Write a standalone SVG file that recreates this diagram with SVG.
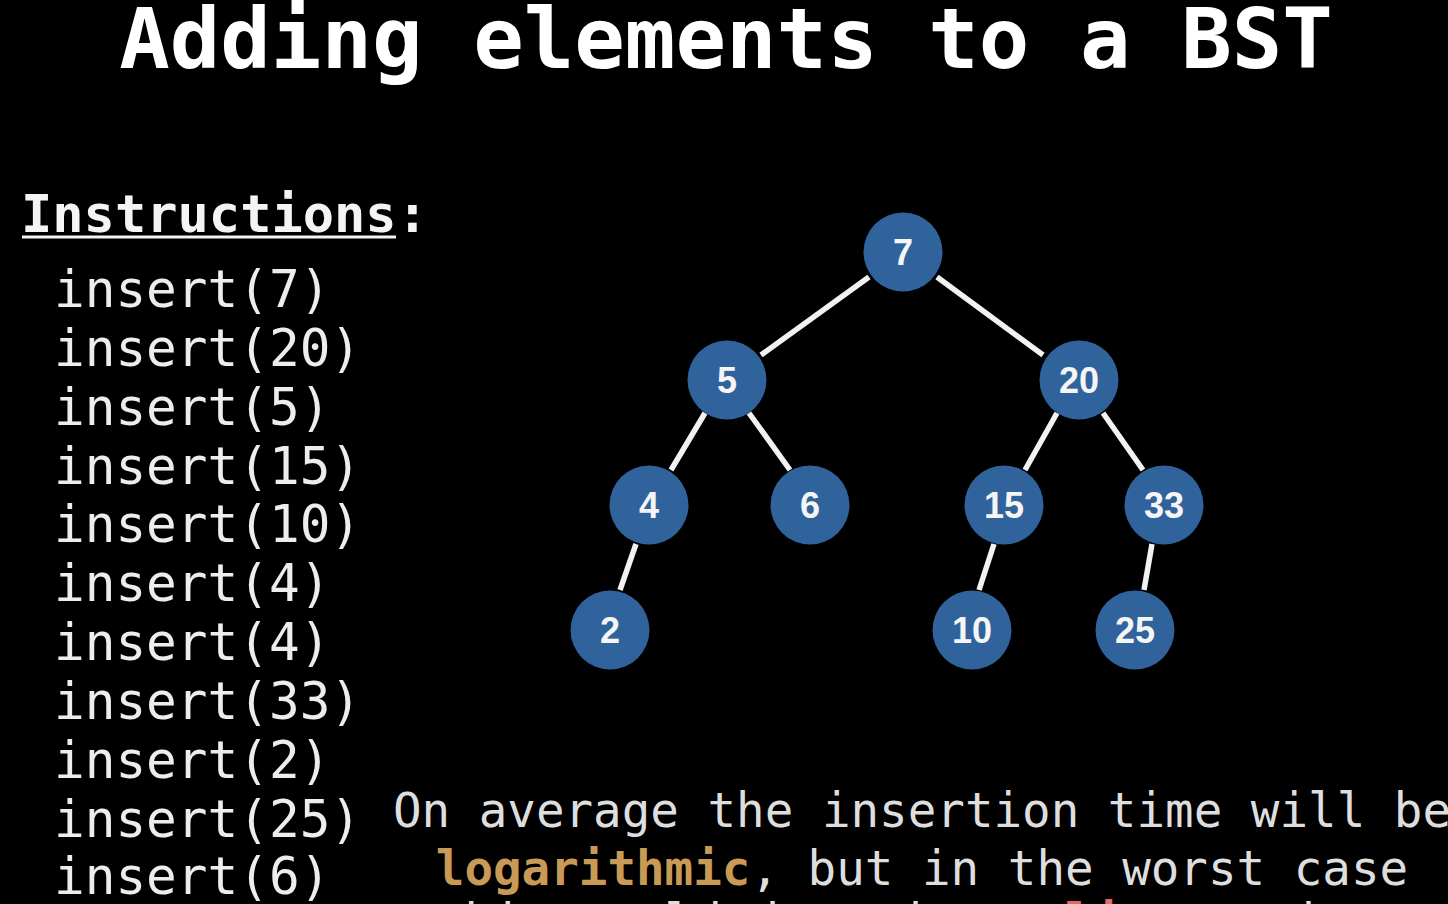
<svg xmlns="http://www.w3.org/2000/svg" width="1448" height="904" viewBox="0 0 1448 904">
<style>
.mono{font-family:"DejaVu Sans Mono","Liberation Mono",monospace}
.title{font-size:84px;font-weight:bold;fill:#ffffff}
.ins{font-size:51px;fill:#ededed}
.hdr{font-size:52px;font-weight:bold;fill:#f4f4f4}
.note{font-size:47.5px;fill:#dedede}
.node circle{fill:#30639c}
.node text{font-family:"Liberation Sans",Arial,sans-serif;font-size:36px;font-weight:bold;fill:#f5f5f5;text-anchor:middle}
.edge{stroke:#f2f2f2;stroke-width:5.5;stroke-linecap:butt}
</style>
<rect x="0" y="0" width="1448" height="904" fill="#000000"/>
<text class="mono title" x="726" y="68" text-anchor="middle">Adding elements to a BST</text>
<g id="instructions">
<text class="mono hdr" x="21" y="232">Instructions:</text>
<line x1="22" y1="237" x2="396" y2="237" stroke="#f4f4f4" stroke-width="3"/>
<text class="mono ins" x="54" y="307">insert(7)</text>
<text class="mono ins" x="54" y="366">insert(20)</text>
<text class="mono ins" x="54" y="424.5">insert(5)</text>
<text class="mono ins" x="54" y="483.5">insert(15)</text>
<text class="mono ins" x="54" y="542">insert(10)</text>
<text class="mono ins" x="54" y="601">insert(4)</text>
<text class="mono ins" x="54" y="660">insert(4)</text>
<text class="mono ins" x="54" y="718.5">insert(33)</text>
<text class="mono ins" x="54" y="777.5">insert(2)</text>
<text class="mono ins" x="54" y="836.5">insert(25)</text>
<text class="mono ins" x="54" y="894">insert(6)</text>
</g>
<g id="connectors">
<line class="edge" x1="869" y1="277" x2="761" y2="355"/>
<line class="edge" x1="937" y1="277" x2="1043" y2="355"/>
<line class="edge" x1="705" y1="413" x2="671" y2="470"/>
<line class="edge" x1="749" y1="413" x2="790" y2="470"/>
<line class="edge" x1="1057" y1="413" x2="1025" y2="470"/>
<line class="edge" x1="1103" y1="413" x2="1143" y2="470"/>
<line class="edge" x1="636" y1="544" x2="620" y2="590"/>
<line class="edge" x1="994" y1="544" x2="979" y2="590"/>
<line class="edge" x1="1152" y1="544" x2="1144" y2="590"/>
</g>
<g id="n7" class="node"><circle cx="903" cy="252" r="39.5"/><text x="903" y="265">7</text></g>
<g id="n5" class="node"><circle cx="727" cy="380" r="39.5"/><text x="727" y="393">5</text></g>
<g id="n20" class="node"><circle cx="1079" cy="380" r="39.5"/><text x="1079" y="393">20</text></g>
<g id="n4" class="node"><circle cx="649" cy="505" r="39.5"/><text x="649" y="518">4</text></g>
<g id="n6" class="node"><circle cx="810" cy="505" r="39.5"/><text x="810" y="518">6</text></g>
<g id="n15" class="node"><circle cx="1004" cy="505" r="39.5"/><text x="1004" y="518">15</text></g>
<g id="n33" class="node"><circle cx="1164" cy="505" r="39.5"/><text x="1164" y="518">33</text></g>
<g id="n2" class="node"><circle cx="610" cy="630" r="39.5"/><text x="610" y="643">2</text></g>
<g id="n10" class="node"><circle cx="972" cy="630" r="39.5"/><text x="972" y="643">10</text></g>
<g id="n25" class="node"><circle cx="1135" cy="630" r="39.5"/><text x="1135" y="643">25</text></g>
<g id="note">
<text class="mono note" x="922" y="827" text-anchor="middle">On average the insertion time will be</text>
<text class="mono note" x="922" y="885" text-anchor="middle"><tspan font-weight="bold" fill="#c99a55">logarithmic</tspan>, but in the worst case</text>
<text class="mono note" x="922" y="938" text-anchor="middle">this could degrade to <tspan font-weight="bold" fill="#e06a6a">linear</tspan> time.</text>
</g>
</svg>
